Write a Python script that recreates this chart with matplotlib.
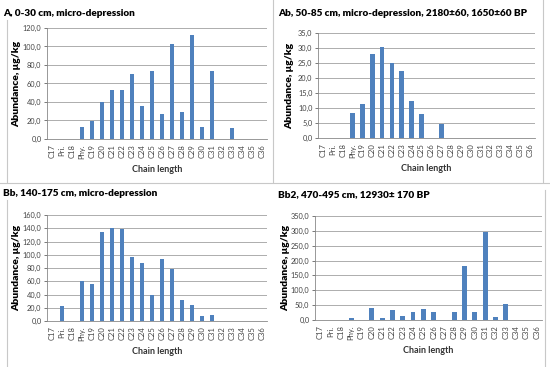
import matplotlib
matplotlib.use("Agg")
import matplotlib.pyplot as plt
from matplotlib.lines import Line2D
from matplotlib.ticker import FuncFormatter

plt.rcParams['font.family'] = ['Lato', 'DejaVu Sans']

categories = ["C17", "Pri.", "C18", "Phy.", "C19", "C20", "C21", "C22", "C23", "C24",
              "C25", "C26", "C27", "C28", "C29", "C30", "C31", "C32", "C33", "C34",
              "C35", "C36"]

vals_A = [0, 0, 0, 13, 19, 40, 53, 52.5, 70, 36, 73.5, 27, 103, 29, 112, 13.5, 74, 0, 12, 0, 0, 0]
vals_Ab = [0, 0, 0, 8.4, 11.2, 28.1, 30.2, 25.0, 22.2, 12.3, 8.0, 0, 4.8, 0, 0, 0, 0, 0, 0, 0, 0, 0]
vals_Bb = [0, 23, 0, 61, 56, 134, 141, 139, 97, 88, 40, 94, 78, 31, 24, 7, 9, 0, 0, 0, 0, 0]
vals_Bb2 = [0, 0, 0, 7, 0, 42, 7, 32, 15, 28, 36, 28, 0, 26, 183, 28, 297, 11, 55, 0, 0, 0]

titles = ["A, 0-30 cm, micro-depression",
          "Ab, 50-85 cm, micro-depression, 2180\u00b160, 1650\u00b160 BP",
          "Bb, 140-175 cm, micro-depression",
          "Bb2, 470-495 cm, 12930\u00b1 170 BP"]
ymax = [120, 35, 160, 350]
ystep = [20, 5, 20, 50]
series = [vals_A, vals_Ab, vals_Bb, vals_Bb2]

W, H = 550, 367
fig = plt.figure(figsize=(5.5, 3.67), dpi=100)

# plot areas in pixels: x0, y0(top), x1, y1(bottom)
areas = [(47, 28, 267, 139), (318, 33, 535, 138), (47, 215, 267, 321), (315, 216, 542, 320)]
title_pos = [(3, 13), (278, 14), (3, 194), (278, 195)]
ylab_x = [17, 290, 17, 286]

bar_color = "#4F81BD"
fmt = FuncFormatter(lambda v, p: f"{v:.1f}".replace(".", ","))

for i in range(4):
    x0, y0, x1, y1 = areas[i]
    ax = fig.add_axes([x0 / W, 1 - y1 / H, (x1 - x0) / W, (y1 - y0) / H])
    ax.bar(range(len(categories)), series[i], width=0.48, color=bar_color, zorder=3)
    ax.set_xlim(-0.5, len(categories) - 0.5)
    ax.set_ylim(0, ymax[i])
    ax.set_yticks([v for v in range(0, ymax[i] + 1, ystep[i])])
    ax.yaxis.set_major_formatter(fmt)
    ax.set_xticks(range(len(categories)))
    ax.set_xticklabels(categories, rotation=90, fontsize=5.5, color="#444444")
    ax.tick_params(axis='y', labelsize=5.3, colors="#444444", length=2, width=0.5, pad=2)
    ax.tick_params(axis='x', length=0, pad=4)
    ax.grid(axis='y', color="#a0a0a0", linewidth=0.6, zorder=0)
    for s in ["top", "right"]:
        ax.spines[s].set_visible(False)
    ax.spines["left"].set_color("#888888")
    ax.spines["bottom"].set_color("#888888")
    ax.spines["left"].set_linewidth(0.6)
    ax.spines["bottom"].set_linewidth(0.6)
    ax.set_xlabel("Chain length", fontsize=6.5, fontweight="bold", color="#333333", labelpad=4)
    tx, ty = title_pos[i]
    fig.text(tx / W, 1 - ty / H, titles[i], fontsize=7.2, fontweight="heavy",
             ha="left", va="center", color="#000000")
    fig.text(ylab_x[i] / W, 1 - ((y0 + y1) / 2) / H, "Abundance, \u03bcg/kg", rotation=90,
             fontsize=7.5, fontweight="heavy", ha="center", va="center", color="#000000")

# panel borders
border = "#c8c8c8"
def hline(y, xa, xb):
    fig.add_artist(Line2D([xa / W, xb / W], [1 - y / H, 1 - y / H], color=border, lw=0.8))
def vline(x, ya, yb):
    fig.add_artist(Line2D([x / W, x / W], [1 - ya / H, 1 - yb / H], color=border, lw=0.8))

vline(7, 20, 182)
vline(273, 0, 182)
vline(543, 0, 182)
hline(183, 0, 550)
vline(7, 200, 367)
vline(545, 190, 367)

fig.savefig("out.png", dpi=100)
